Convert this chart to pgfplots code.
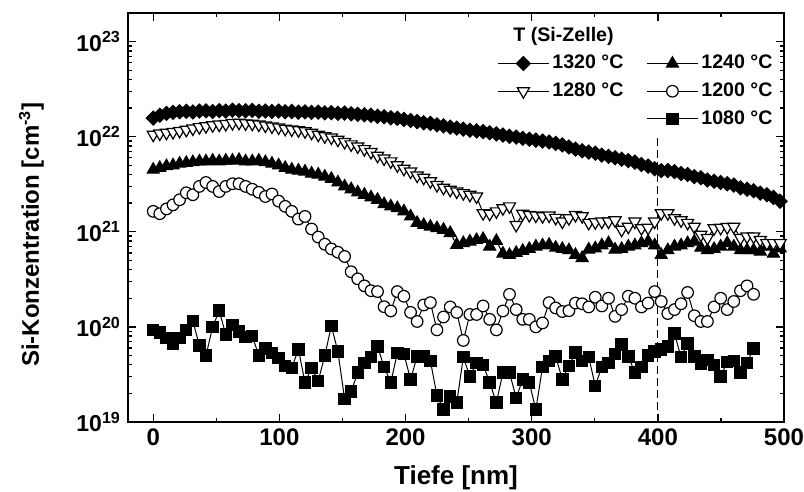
\documentclass[border=0pt]{standalone}
\usepackage{fontspec}
\setmainfont{Liberation Sans}
\usepackage{pgfplots}
\pgfplotsset{compat=1.18}
\usepackage{pgfplotstable}

\pgfplotstableread{
x y
0 1.57e22
5.2 1.68e22
10.5 1.76e22
15.7 1.80e22
20.9 1.83e22
26.2 1.85e22
31.4 1.82e22
36.6 1.86e22
41.8 1.87e22
47.1 1.84e22
52.3 1.88e22
57.5 1.86e22
62.8 1.90e22
68.0 1.88e22
73.2 1.87e22
78.5 1.89e22
83.7 1.85e22
88.9 1.86e22
94.1 1.84e22
99.4 1.86e22
104.6 1.83e22
109.8 1.84e22
115.1 1.81e22
120.3 1.82e22
125.5 1.80e22
130.8 1.81e22
136.0 1.78e22
141.2 1.79e22
146.4 1.76e22
151.7 1.77e22
156.9 1.74e22
162.1 1.72e22
167.4 1.70e22
172.6 1.68e22
177.8 1.64e22
183.0 1.62e22
188.3 1.58e22
193.5 1.56e22
198.7 1.52e22
204.0 1.48e22
209.2 1.44e22
214.4 1.40e22
219.7 1.38e22
224.9 1.33e22
230.1 1.30e22
235.4 1.26e22
240.6 1.23e22
245.8 1.20e22
251.0 1.17e22
256.3 1.15e22
261.5 1.13e22
266.7 1.10e22
272.0 1.07e22
277.2 1.04e22
282.4 1.01e22
287.7 0.99e22
292.9 0.96e22
298.1 0.94e22
303.3 0.92e22
308.6 0.90e22
313.8 0.88e22
319.0 0.85e22
324.3 0.82e22
329.5 0.78e22
334.7 0.74e22
340.0 0.71e22
345.2 0.69e22
350.4 0.67e22
355.6 0.64e22
360.9 0.62e22
366.1 0.60e22
371.3 0.58e22
376.6 0.56e22
381.8 0.54e22
387.0 0.51e22
392.3 0.49e22
397.5 0.46e22
402.7 0.44e22
407.9 0.44e22
413.2 0.43e22
418.4 0.41e22
423.6 0.40e22
428.9 0.38e22
434.1 0.37e22
439.3 0.35e22
444.6 0.34e22
449.8 0.33e22
455.0 0.32e22
460.2 0.31e22
465.5 0.29e22
470.7 0.28e22
475.9 0.27e22
481.2 0.255e22
486.4 0.245e22
491.6 0.23e22
496.9 0.21e22
}\tA

\pgfplotstableread{
x y
0 4.5e21
5.2 4.7e21
10.5 4.9e21
15.7 5.0e21
20.9 5.2e21
26.2 5.3e21
31.4 5.4e21
36.6 5.5e21
41.8 5.5e21
47.1 5.6e21
52.3 5.5e21
57.5 5.6e21
62.8 5.6e21
68.0 5.7e21
73.2 5.5e21
78.5 5.5e21
83.7 5.6e21
88.9 5.4e21
94.1 5.2e21
99.4 5.0e21
104.6 4.7e21
109.8 4.5e21
115.1 4.4e21
120.3 4.3e21
125.5 4.1e21
130.8 4.0e21
136.0 3.8e21
141.2 3.6e21
146.4 3.3e21
151.7 3.0e21
156.9 2.8e21
162.1 2.6e21
167.4 2.45e21
172.6 2.3e21
177.8 2.17e21
183.0 1.95e21
188.3 1.85e21
193.5 1.77e21
198.7 1.64e21
204.0 1.45e21
209.2 1.24e21
214.4 1.18e21
219.7 1.13e21
224.9 1.09e21
230.1 1.05e21
235.4 0.97e21
240.6 0.73e21
245.8 0.76e21
251.0 0.79e21
256.3 0.82e21
261.5 0.84e21
266.7 0.70e21
272.0 0.80e21
277.2 0.59e21
282.4 0.57e21
287.7 0.60e21
292.9 0.63e21
298.1 0.66e21
303.3 0.70e21
308.6 0.72e21
313.8 0.73e21
319.0 0.68e21
324.3 0.66e21
329.5 0.64e21
334.7 0.57e21
340.0 0.53e21
345.2 0.65e21
350.4 0.67e21
355.6 0.72e21
360.9 0.76e21
366.1 0.65e21
371.3 0.66e21
376.6 0.70e21
381.8 0.72e21
387.0 0.76e21
392.3 0.79e21
397.5 0.72e21
402.7 0.57e21
407.9 0.64e21
413.2 0.70e21
418.4 0.72e21
423.6 0.76e21
428.9 0.79e21
434.1 0.68e21
439.3 0.64e21
444.6 0.66e21
449.8 0.70e21
455.0 0.76e21
460.2 0.70e21
465.5 0.64e21
470.7 0.64e21
475.9 0.64e21
481.2 0.62e21
486.4 0.70e21
491.6 0.59e21
496.9 0.67e21
}\tB

\pgfplotstableread{
x y
0 10.5e21
5.2 10.8e21
10.5 11.0e21
15.7 11.2e21
20.9 11.5e21
26.2 11.8e21
31.4 12.2e21
36.6 12.6e21
41.8 12.9e21
47.1 13.2e21
52.3 13.4e21
57.5 13.6e21
62.8 13.9e21
68.0 14.0e21
73.2 13.8e21
78.5 13.7e21
83.7 13.4e21
88.9 13.1e21
94.1 12.8e21
99.4 12.5e21
104.6 12.1e21
109.8 11.9e21
115.1 11.7e21
120.3 11.4e21
125.5 11.0e21
130.8 10.5e21
136.0 10.1e21
141.2 9.8e21
146.4 9.3e21
151.7 8.8e21
156.9 8.3e21
162.1 7.9e21
167.4 7.4e21
172.6 6.9e21
177.8 6.3e21
183.0 5.9e21
188.3 5.5e21
193.5 5.0e21
198.7 4.6e21
204.0 4.3e21
209.2 3.9e21
214.4 3.7e21
219.7 3.4e21
224.9 3.1e21
230.1 2.9e21
235.4 2.77e21
240.6 2.65e21
245.8 2.55e21
251.0 2.45e21
256.3 2.35e21
261.5 1.57e21
266.7 1.55e21
272.0 1.64e21
277.2 1.77e21
282.4 1.85e21
287.7 1.18e21
292.9 1.55e21
298.1 1.50e21
303.3 1.48e21
308.6 1.46e21
313.8 1.48e21
319.0 1.40e21
324.3 1.28e21
329.5 1.39e21
334.7 1.50e21
340.0 1.46e21
345.2 1.24e21
350.4 1.26e21
355.6 1.28e21
360.9 1.28e21
366.1 1.32e21
371.3 1.05e21
376.6 1.13e21
381.8 1.28e21
387.0 1.09e21
392.3 1.10e21
397.5 1.28e21
402.7 1.57e21
407.9 1.57e21
413.2 1.39e21
418.4 1.32e21
423.6 1.24e21
428.9 1.13e21
434.1 0.93e21
439.3 0.86e21
444.6 1.09e21
449.8 1.10e21
455.0 1.12e21
460.2 1.13e21
465.5 0.86e21
470.7 0.89e21
475.9 0.89e21
481.2 0.82e21
486.4 0.76e21
491.6 0.76e21
496.9 0.76e21
}\tC

\pgfplotstableread{
x y
0 1.64e21
5.2 1.55e21
10.5 1.74e21
15.7 1.92e21
20.9 2.17e21
26.2 2.57e21
31.4 2.45e21
36.6 3.0e21
41.8 3.3e21
47.1 3.0e21
52.3 2.65e21
57.5 3.0e21
62.8 3.2e21
68.0 3.2e21
73.2 3.0e21
78.5 2.8e21
83.7 2.6e21
88.9 2.35e21
94.1 2.5e21
99.4 2.1e21
104.6 1.85e21
109.8 1.64e21
115.1 1.36e21
120.3 1.45e21
125.5 1.07e21
130.8 8.8e20
136.0 7.4e20
141.2 6.6e20
146.4 6.1e20
151.7 5.5e20
156.9 3.8e20
162.1 3.2e20
167.4 2.7e20
172.6 2.4e20
177.8 2.35e20
183.0 1.63e20
188.3 1.47e20
193.5 2.35e20
198.7 2.1e20
204.0 1.42e20
209.2 1.14e20
214.4 1.7e20
219.7 1.8e20
224.9 9.3e19
230.1 1.27e20
235.4 1.62e20
240.6 1.42e20
245.8 7.2e19
251.0 1.35e20
256.3 1.35e20
261.5 1.66e20
266.7 1.2e20
272.0 9.3e19
277.2 1.47e20
282.4 2.2e20
287.7 1.52e20
292.9 1.2e20
298.1 1.2e20
303.3 1.0e20
308.6 1.1e20
313.8 1.8e20
319.0 1.58e20
324.3 1.45e20
329.5 1.48e20
334.7 1.78e20
340.0 1.75e20
345.2 1.62e20
350.4 2.05e20
355.6 1.66e20
360.9 2.0e20
366.1 1.29e20
371.3 1.52e20
376.6 2.1e20
381.8 2.0e20
387.0 1.62e20
392.3 1.78e20
397.5 2.35e20
402.7 1.85e20
407.9 1.38e20
413.2 1.52e20
418.4 1.75e20
423.6 2.3e20
428.9 1.31e20
434.1 1.14e20
439.3 1.14e20
444.6 1.62e20
449.8 2.0e20
455.0 1.52e20
460.2 1.85e20
465.5 2.4e20
470.7 2.7e20
475.9 2.2e20
}\tD

\pgfplotstableread{
x y
0 9.3e19
5.2 8.7e19
10.5 7.6e19
15.7 6.7e19
20.9 7.6e19
26.2 9.3e19
31.4 1.15e20
36.6 6.4e19
41.8 5.0e19
47.1 1.0e20
52.3 1.48e20
57.5 8.3e19
62.8 1.05e20
68.0 8.9e19
73.2 7.8e19
78.5 8.0e19
83.7 5.0e19
88.9 5.9e19
94.1 5.3e19
99.4 4.7e19
104.6 3.9e19
109.8 3.7e19
115.1 5.8e19
120.3 2.6e19
125.5 3.7e19
130.8 2.7e19
136.0 5.0e19
141.2 1.02e20
146.4 5.5e19
151.7 1.74e19
156.9 2.1e19
162.1 3.3e19
167.4 4.2e19
172.6 4.8e19
177.8 6.2e19
183.0 3.8e19
188.3 2.6e19
193.5 5.3e19
198.7 5.2e19
204.0 2.8e19
209.2 4.9e19
214.4 4.9e19
219.7 4.4e19
224.9 1.9e19
230.1 1.35e19
235.4 1.85e19
240.6 1.6e19
245.8 4.8e19
251.0 3.0e19
256.3 4.2e19
261.5 4.0e19
266.7 2.6e19
272.0 1.6e19
277.2 3.3e19
282.4 3.3e19
287.7 1.8e19
292.9 2.8e19
298.1 2.6e19
303.3 1.35e19
308.6 3.8e19
313.8 4.4e19
319.0 4.9e19
324.3 2.8e19
329.5 3.9e19
334.7 5.4e19
340.0 4.4e19
345.2 4.8e19
350.4 2.4e19
355.6 3.8e19
360.9 4.2e19
366.1 5.2e19
371.3 6.5e19
376.6 4.9e19
381.8 3.3e19
387.0 3.8e19
392.3 5.0e19
397.5 5.5e19
402.7 5.8e19
407.9 6.2e19
413.2 8.5e19
418.4 4.8e19
423.6 6.7e19
428.9 4.9e19
434.1 4.1e19
439.3 4.5e19
444.6 4.0e19
449.8 3.0e19
455.0 4.3e19
460.2 4.4e19
465.5 3.3e19
470.7 4.2e19
475.9 5.9e19
}\tE

\begin{document}
\begin{tikzpicture}
\path[use as bounding box] (-64pt,-35pt) rectangle (338pt,211pt);
\begin{semilogyaxis}[
  scale only axis,
  width=328pt, height=204.5pt,
  at={(0,0)}, anchor=south west,
  xmin=-20, xmax=500,
  ymin=1e19, ymax=2e23,
  xtick={0,100,200,300,400,500},
  minor x tick num=1,
  ytick={1e19,1e20,1e21,1e22,1e23},
  yticklabels={10\textsuperscript{19},10\textsuperscript{20},10\textsuperscript{21},10\textsuperscript{22},10\textsuperscript{23}},
  minor ytick={2e19,3e19,4e19,5e19,6e19,7e19,8e19,9e19,2e20,3e20,4e20,5e20,6e20,7e20,8e20,9e20,2e21,3e21,4e21,5e21,6e21,7e21,8e21,9e21,2e22,3e22,4e22,5e22,6e22,7e22,8e22,9e22},
  xtick pos=both, ytick pos=both,
  ticklabel pos=left,
  tick align=inside,
  major tick length=4pt, minor tick length=2.2pt,
  tick style={line width=0.7pt, black},
  axis line style={line width=0.8pt},
  /pgf/number format/assume math mode=true,
  xticklabel style={font=\fontsize{12}{14}\selectfont\bfseries},
  yticklabel style={font=\fontsize{11.5}{14}\selectfont\bfseries},
  xlabel={Tiefe [nm]},
  ylabel={Si-Konzentration [cm\textsuperscript{-3}]},
  xlabel style={font=\fontsize{13}{15}\selectfont\bfseries, at={(axis description cs:0.5,-0.152)}, anchor=base},
  ylabel style={font=\fontsize{12}{14}\selectfont\bfseries, at={(axis description cs:-0.136,0.458)}, anchor=base},
  legend columns=2,
  legend cell align=left,
  legend style={draw=none, fill=none, at={(axis description cs:0.5625,0.905)}, anchor=north west,
    inner sep=0pt, font=\fontsize{9.8}{11}\selectfont\bfseries,
    nodes={inner sep=1.5pt}, row sep=2.5pt,
    /tikz/every even column/.append style={column sep=10pt}},
  legend image code/.code={\draw[mark repeat=2,mark phase=2] plot coordinates {(0pt,0pt) (12.75pt,0pt) (25.5pt,0pt)};},
]
\addplot[black, line width=0.5pt, mark=square*, mark size=2.5pt, mark options={rotate=45, solid, fill=black}] table {\tA};
\addlegendentry{1320 °C}
\addplot[black, line width=0.5pt, mark=triangle*, mark size=3.5pt, mark options={solid, fill=black}] table {\tB};
\addlegendentry{1240 °C}
\addplot[black, line width=0.5pt, mark=triangle*, mark size=3.5pt, mark options={rotate=180, solid, fill=white, line width=0.6pt}] table {\tC};
\addlegendentry{1280 °C}
\addplot[black, line width=0.5pt, mark=*, mark size=2.9pt, mark options={solid, fill=white, line width=0.6pt}] table {\tD};
\addlegendentry{1200 °C}
\addlegendimage{empty legend}
\addlegendentry{}
\addplot[black, line width=0.5pt, mark=square*, mark size=2.85pt, mark options={solid, fill=black}] table {\tE};
\addlegendentry{1080 °C}
\addplot[black, line width=0.6pt, dash pattern=on 4pt off 2pt, forget plot] coordinates {(400,1e19) (400,1e22)};
\node[font=\fontsize{9.8}{11}\selectfont\bfseries, anchor=base west, inner sep=0pt] at (axis description cs:0.587,0.930) {T (Si-Zelle)};
\end{semilogyaxis}
\end{tikzpicture}
\end{document}
